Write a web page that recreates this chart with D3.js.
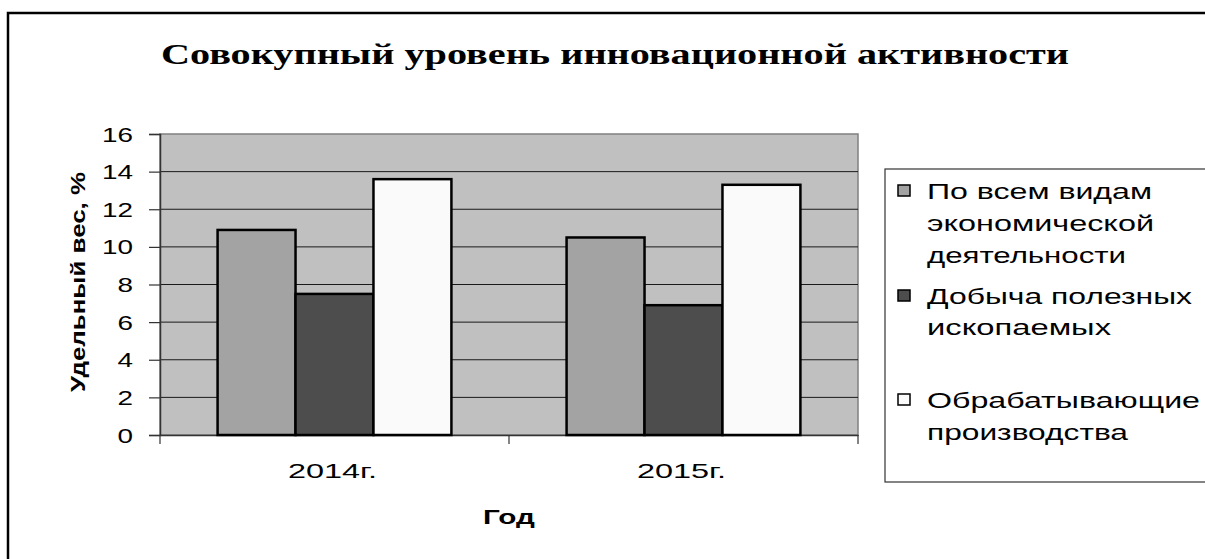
<!DOCTYPE html>
<html>
<head>
<meta charset="utf-8">
<script src="https://cdn.jsdelivr.net/npm/d3@7"></script>
<style>
  body { margin: 0; background: white; }
  svg { display: block; }
</style>
</head>
<body>
<svg id="chart" width="1205" height="559"></svg>
<script>
const years = ["2014г.", "2015г."];
const seriesNames = ["По всем видам экономической деятельности", "Добыча полезных ископаемых", "Обрабатывающие производства"];
const allActivities = [10.9, 10.5];
const mining = [7.5, 6.9];
const manufacturing = [13.6, 13.3];
const yTicks = [0, 2, 4, 6, 8, 10, 12, 14, 16];
const legendLines = [["По всем видам", "экономической", "деятельности"], ["Добыча полезных", "ископаемых"], ["Обрабатывающие", "производства"]];

const seriesValues = [allActivities, mining, manufacturing];
const fills = ["#a3a3a3", "#4d4d4d", "#fafafa"];

const svg = d3.select("#chart");
const plot = { left: 160, right: 858, top: 134, bottom: 435 };

// outer frame, runs off right and bottom edges
svg.append("path")
    .attr("d", "M8,600 L8,13 L1210,13")
    .attr("fill", "none")
    .attr("stroke", "black")
    .attr("stroke-width", 2.5);

// stretched text helper (the original is wide-set)
const addText = (g, txt, x, y, len, opts = {}) => g.append("text")
    .attr("x", x)
    .attr("y", y)
    .attr("textLength", len)
    .attr("lengthAdjust", "spacingAndGlyphs")
    .attr("text-anchor", opts.anchor || "start")
    .attr("font-family", opts.family || "Liberation Sans, Arial, sans-serif")
    .attr("font-size", opts.size || 21)
    .attr("font-weight", opts.weight || "normal")
    .attr("fill", "black")
    .text(txt);

addText(svg, "Совокупный уровень инновационной активности", 161, 64, 908,
    { family: "Liberation Serif, Times New Roman, serif", size: 30, weight: "bold" });

const y = d3.scaleLinear().domain([0, 16]).range([plot.bottom, plot.top]);
const x0 = d3.scaleBand().domain(years).range([plot.left, plot.right]);
const groupW = x0.bandwidth() * 0.67;
const x1 = d3.scaleBand().domain(d3.range(seriesNames.length))
    .range([(x0.bandwidth() - groupW) / 2, (x0.bandwidth() + groupW) / 2]);

// plot background
svg.append("rect")
    .attr("x", plot.left).attr("y", plot.top)
    .attr("width", plot.right - plot.left).attr("height", plot.bottom - plot.top)
    .attr("fill", "#c0c0c0")
    .attr("stroke", "#808080")
    .attr("stroke-width", 1.5);

// gridlines
svg.selectAll("line.grid")
    .data(yTicks.filter(t => t > 0 && t < 16))
    .join("line")
    .attr("class", "grid")
    .attr("x1", plot.left).attr("x2", plot.right)
    .attr("y1", d => y(d)).attr("y2", d => y(d))
    .attr("stroke", "#1a1a1a")
    .attr("stroke-width", 1);

// y axis
const yAxis = svg.append("g")
    .attr("transform", `translate(${plot.left},0)`)
    .call(d3.axisLeft(y).tickValues(yTicks).tickSize(11).tickFormat(""));
yAxis.select(".domain").attr("stroke", "#333").attr("stroke-width", 1.5);
yAxis.selectAll(".tick line").attr("stroke", "#333").attr("stroke-width", 1.2);

yTicks.forEach(t => {
    addText(svg, String(t), 133, y(t) + 7.5, String(t).length * 15.5, { anchor: "end", size: 21 });
});

// x axis
const xAxis = svg.append("g")
    .attr("transform", `translate(0,${plot.bottom})`)
    .call(d3.axisBottom(x0).tickSize(0).tickFormat(""));
xAxis.select(".domain").attr("stroke", "#333").attr("stroke-width", 1.5);
svg.selectAll("line.xtick")
    .data([plot.left, ...years.map(d => x0(d) + x0.bandwidth())])
    .join("line")
    .attr("class", "xtick")
    .attr("x1", d => d).attr("x2", d => d)
    .attr("y1", plot.bottom).attr("y2", plot.bottom + 9)
    .attr("stroke", "#333").attr("stroke-width", 1.2);

years.forEach(yr => {
    addText(svg, yr, x0(yr) + x0.bandwidth() / 2 - 2, 478, 89, { anchor: "middle" });
});

// bars
const groups = svg.selectAll("g.year")
    .data(years)
    .join("g")
    .attr("class", "year")
    .attr("transform", d => `translate(${x0(d)},0)`);

groups.selectAll("rect")
    .data((d, i) => seriesValues.map((vals, s) => ({ s, v: vals[i] })))
    .join("rect")
    .attr("x", d => x1(d.s))
    .attr("y", d => y(d.v))
    .attr("width", x1.bandwidth())
    .attr("height", d => y(0) - y(d.v))
    .attr("fill", d => fills[d.s])
    .attr("stroke", "black")
    .attr("stroke-width", 2.5);

// axis titles
addText(svg, "Год", 509, 524, 52, { anchor: "middle", weight: "bold" });
const yt = svg.append("g").attr("transform", "translate(85,282) rotate(-90)");
addText(yt, "Удельный вес, %", 0, 0, 220, { anchor: "middle", weight: "bold", size: 20 });

// legend
svg.append("rect")
    .attr("x", 885).attr("y", 169)
    .attr("width", 400).attr("height", 313)
    .attr("fill", "white")
    .attr("stroke", "#333")
    .attr("stroke-width", 1.2);

const legendBase = [[199, 231, 263], [304, 335], [408, 440]];
const legendWidths = [[225, 227, 199], [265, 184], [273, 201]];
legendLines.forEach((lines, s) => {
    svg.append("rect")
        .attr("x", 898).attr("y", legendBase[s][0] - 14)
        .attr("width", 12).attr("height", 11)
        .attr("fill", fills[s])
        .attr("stroke", "black")
        .attr("stroke-width", 1.5);
    lines.forEach((ln, j) => {
        addText(svg, ln, 927, legendBase[s][j], legendWidths[s][j], { size: 22 });
    });
});
</script>
</body>
</html>
